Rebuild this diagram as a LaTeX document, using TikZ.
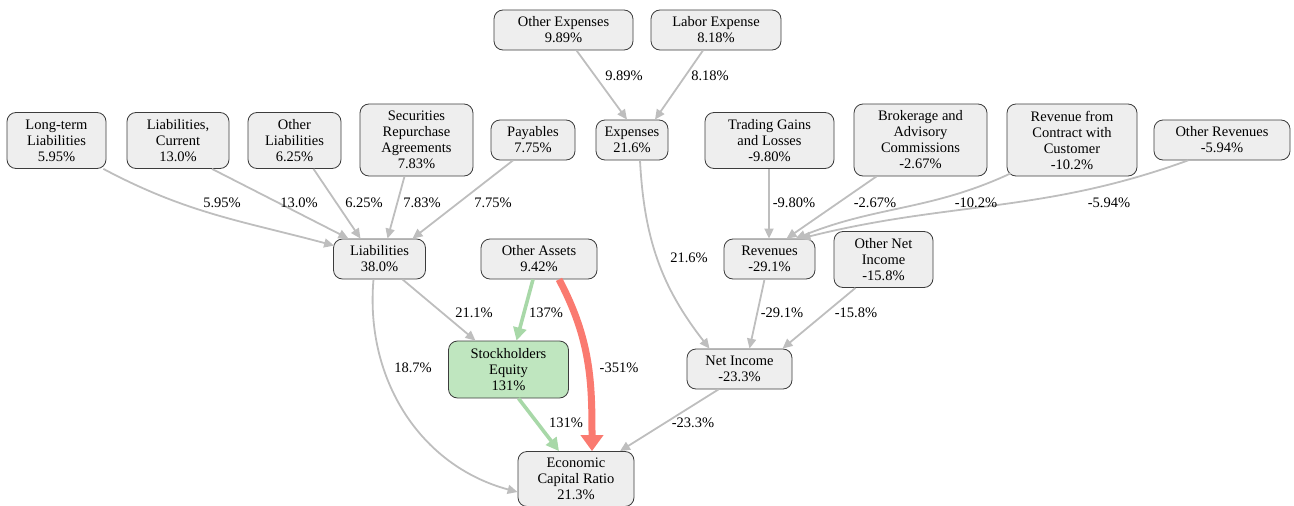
\documentclass[tikz,border=0pt]{standalone}
\usepackage{fontspec}
\setmainfont{Liberation Serif}
\usetikzlibrary{arrows.meta}

\definecolor{boxfill}{RGB}{238,238,238}
\definecolor{boxline}{RGB}{60,60,60}
\definecolor{flowgray}{RGB}{190,190,190}
\definecolor{posfill}{RGB}{191,230,191}
\definecolor{posflow}{RGB}{168,216,168}
\definecolor{negflow}{RGB}{250,122,112}

\begin{document}
\begin{tikzpicture}[x=1pt,y=-1pt,
  font=\rmfamily\fontsize{14.5}{16}\selectfont,
  main node/.style={rectangle,rounded corners=9pt,draw=boxline,fill=boxfill,
    line width=0.8pt,align=center,inner sep=2pt,minimum height=40pt},
  flow/.style={draw=flowgray,line width=1.8pt,-{Triangle[length=10pt,width=9pt]}},
  gain flow/.style={draw=posflow,line width=3.6pt,-{Triangle[length=13pt,width=13pt]}},
  loss flow/.style={draw=negflow,line width=7pt,-{Triangle[length=16pt,width=22pt]}},
  pct/.style={inner sep=0pt}]

  \useasboundingbox (0,0) rectangle (1294,506);

  % top rows
  \node[main node,minimum width=139pt] (oexp) at (563.5,30) {Other Expenses\\9.89\%};
  \node[main node,minimum width=130pt] (labor) at (716,30) {Labor Expense\\8.18\%};

  \node[main node,minimum width=99pt,minimum height=56pt] (ltliab) at (56.5,140.5) {Long-term\\Liabilities\\5.95\%};
  \node[main node,minimum width=102pt,minimum height=56pt] (curliab) at (178,140.5) {Liabilities,\\Current\\13.0\%};
  \node[main node,minimum width=93pt,minimum height=56pt] (oliab) at (294.5,140.5) {Other\\Liabilities\\6.25\%};
  \node[main node,minimum width=113pt,minimum height=72pt] (repo) at (416.5,140) {Securities\\Repurchase\\Agreements\\7.83\%};
  \node[main node,minimum width=84pt] (pay) at (533,140) {Payables\\7.75\%};
  \node[main node,minimum width=72pt] (exp) at (632,140) {Expenses\\21.6\%};
  \node[main node,minimum width=129pt,minimum height=56pt] (trade) at (769.5,140.5) {Trading Gains\\and Losses\\-9.80\%};
  \node[main node,minimum width=133pt,minimum height=72pt] (brok) at (920.5,140) {Brokerage and\\Advisory\\Commissions\\-2.67\%};
  \node[main node,minimum width=130pt,minimum height=72pt] (rcc) at (1072,140) {Revenue from\\Contract with\\Customer\\-10.2\%};
  \node[main node,minimum width=136pt] (orev) at (1222,140) {Other Revenues\\-5.94\%};

  % middle
  \node[main node,minimum width=92pt] (liab) at (379.5,259) {Liabilities\\38.0\%};
  \node[main node,minimum width=116pt] (oassets) at (539,259) {Other Assets\\9.42\%};
  \node[main node,minimum width=91pt] (rev) at (769.5,259) {Revenues\\-29.1\%};
  \node[main node,minimum width=99pt,minimum height=56pt] (onet) at (883.5,259.5) {Other Net\\Income\\-15.8\%};
  \node[main node,fill=posfill,minimum width=120pt,minimum height=57pt] (equity) at (508.5,369.5) {Stockholders\\Equity\\131\%};
  \node[main node,minimum width=105pt] (netinc) at (739.5,369) {Net Income\\-23.3\%};
  \node[main node,minimum width=116pt,minimum height=55pt] (ecr) at (576,479) {Economic\\Capital Ratio\\21.3\%};

  \path[every edge/.style={flow}]
    ([xshift=-3pt]ltliab.south east) edge[out=-28,in=165] ([xshift=1pt,yshift=-7pt]liab.north west)
    ([xshift=34pt]curliab.south) edge ([xshift=-31pt]liab.north)
    ([xshift=19pt]oliab.south) edge ([xshift=-19pt]liab.north)
    ([xshift=-12pt]repo.south) edge ([xshift=8pt]liab.north)
    ([xshift=-20pt]pay.south) edge ([xshift=33pt]liab.north)
    ([xshift=13pt]oexp.south) edge ([xshift=-5pt]exp.north)
    ([xshift=-13pt]labor.south) edge ([xshift=23pt]exp.north)
    ([xshift=8pt]exp.south) edge[out=-87,in=128] ([xshift=-30pt]netinc.north)
    ([xshift=-0.5pt]trade.south) edge ([xshift=-0.5pt]rev.north)
    ([xshift=-44pt]brok.south) edge ([xshift=17pt]rev.north)
    ([xshift=4pt,yshift=3pt]rcc.south west) edge[out=-155,in=22] ([xshift=26pt]rev.north)
    ([xshift=-34pt]orev.south) edge[out=-160,in=14] ([xshift=31pt]rev.north)
    ([xshift=-5pt]rev.south) edge ([xshift=10pt]netinc.north)
    ([xshift=-28pt]onet.south) edge ([xshift=43pt]netinc.north)
    ([xshift=23pt]liab.south) edge ([xshift=-33pt]equity.north)
    ([xshift=-6pt]liab.south) edge[out=-95,in=165] ([yshift=-13pt]ecr.west)
    ([xshift=-21pt]netinc.south) edge ([xshift=44pt]ecr.north);

  \path ([xshift=-6pt]oassets.south) edge[gain flow] ([xshift=8pt]equity.north);
  \path ([xshift=10pt]equity.south) edge[gain flow] ([xshift=-17pt]ecr.north);
  \path ([xshift=20pt]oassets.south) edge[loss flow,out=-62,in=90] ([xshift=16pt]ecr.north);

  % flow labels
  \node[pct] (l1) at (222,203) {5.95\%};
  \node[pct] (l2) at (299,203) {13.0\%};
  \node[pct] (l3) at (364,203) {6.25\%};
  \node[pct] (l4) at (422,203) {7.83\%};
  \node[pct] (l5) at (493,203) {7.75\%};
  \node[pct] (l6) at (624,76) {9.89\%};
  \node[pct] (l7) at (710,76) {8.18\%};
  \node[pct] (l8) at (689,258) {21.6\%};
  \node[pct] (l9) at (794,203) {-9.80\%};
  \node[pct] (l10) at (875,203) {-2.67\%};
  \node[pct] (l11) at (976,203) {-10.2\%};
  \node[pct] (l12) at (1109,203) {-5.94\%};
  \node[pct] (l13) at (474,313) {21.1\%};
  \node[pct] (l14) at (546,313) {137\%};
  \node[pct] (l15) at (782,313) {-29.1\%};
  \node[pct] (l16) at (856,313) {-15.8\%};
  \node[pct] (l17) at (413,368) {18.7\%};
  \node[pct] (l18) at (619,368) {-351\%};
  \node[pct] (l19) at (566,423) {131\%};
  \node[pct] (l20) at (693,423) {-23.3\%};
\end{tikzpicture}
\end{document}
